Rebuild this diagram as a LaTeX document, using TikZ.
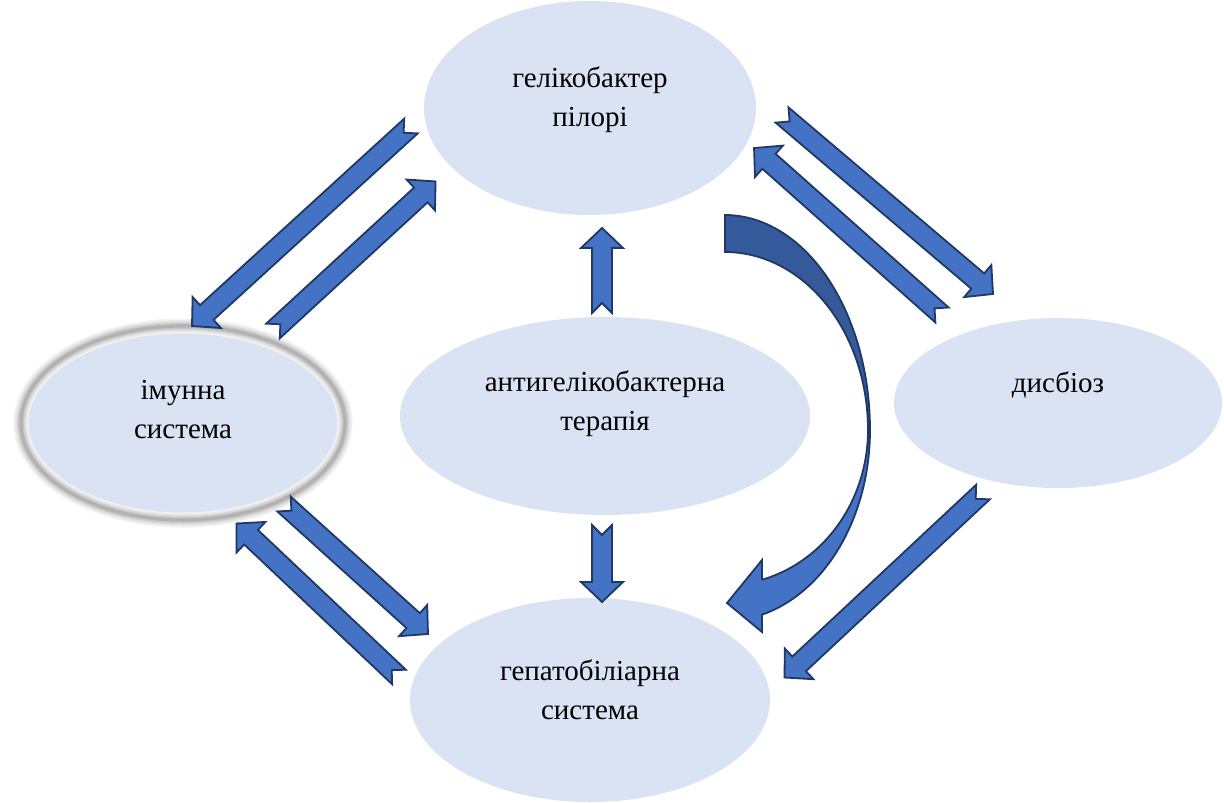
\documentclass[tikz,border=0pt]{standalone}
\usepackage{fontspec}
\setmainfont{Liberation Serif}
\usetikzlibrary{calc,shapes.geometric}
\definecolor{ellfill}{HTML}{DAE3F3}
\definecolor{arrfill}{HTML}{4472C4}
\definecolor{arrline}{HTML}{1F3864}
\definecolor{arrdark}{HTML}{345A9C}
\newcommand\notchedarrow[2]{%
  \pgfpointdiff{\pgfpointanchor{#1}{center}}{\pgfpointanchor{#2}{center}}%
  \pgfgetlastxy{\nax}{\nay}%
  \pgfmathsetmacro\nang{atan2(\nay,\nax)}%
  \pgfmathsetmacro\nlen{veclen(\nax,\nay)}%
  \begin{scope}[shift={(#1)},rotate=\nang]
    \draw[notcharrow] (0pt,5pt) -- ({\nlen pt-10pt},5pt) -- ({\nlen pt-10pt},10.5pt)
      -- (\nlen pt,0pt) -- ({\nlen pt-10pt},-10.5pt) -- ({\nlen pt-10pt},-5pt)
      -- (0pt,-5pt) -- (5pt,0pt) -- cycle;
  \end{scope}}
\begin{document}
\begin{tikzpicture}[x=0.5pt,y=-0.5pt,
  ell/.style={ellipse, fill=ellfill, draw=none, inner sep=0pt},
  lbl/.style={font=\fontsize{14.5}{19.5}\selectfont, align=center, inner sep=0pt},
  notcharrow/.style={fill=arrfill, draw=arrline, line width=0.9pt, line join=miter},
  glowring/.style={draw=black!#1}]
\useasboundingbox (0,0) rectangle (1224,802);
\fill[white] (0,0) rectangle (1224,802);

% ellipses
\node[ell, minimum width=166pt, minimum height=107pt] (hp) at (590,108) {};
\node[ell, minimum width=155pt, minimum height=90pt] (imm) at (183,423) {};
\node[ell, minimum width=205pt, minimum height=99pt] (ther) at (605,416) {};
\node[ell, minimum width=164pt, minimum height=85pt] (dys) at (1058,403) {};
\node[ell, minimum width=180pt, minimum height=102pt] (hep) at (590,700) {};

% glow around immune system
\foreach \w/\c in {7.5pt/5, 6pt/9, 4.5pt/15, 3pt/22, 1.6pt/30}
  \draw[glowring=\c, line width=\w] (imm.center) ellipse [x radius=81pt, y radius=48.5pt];

% labels
\node[lbl] (tHP) at ([yshift=4pt]hp.center) {гелікобактер\\пілорі};
\node[lbl] (tIMM) at ([yshift=6.5pt]imm.center) {імунна\\система};
\node[lbl] (tTHER) at ([yshift=6pt]ther.center) {антигелікобактерна\\терапія};
\node[lbl] (tDYS) at ([yshift=9pt]dys.center) {дисбіоз};
\node[lbl] (tHEP) at ([yshift=5pt]hep.center) {гепатобіліарна\\система};

% arrow end points
\coordinate (a1) at (411,126); \coordinate (a2) at (192,326);
\coordinate (b1) at (273,331); \coordinate (b2) at (436,181);
\coordinate (c1) at (782,115); \coordinate (c2) at (993,294);
\coordinate (d1) at (942,315); \coordinate (d2) at (754,148);
\coordinate (e1) at (284,504); \coordinate (e2) at (428,634);
\coordinate (f1) at (399,677); \coordinate (f2) at (236,523);
\coordinate (g1) at (983,492); \coordinate (g2) at (784,678);
\coordinate (h1) at (602,313); \coordinate (h2) at (602,228);
\coordinate (i1) at (602,525); \coordinate (i2) at (602,602);

\notchedarrow{a1}{a2}
\notchedarrow{b1}{b2}
\notchedarrow{c1}{c2}
\notchedarrow{d1}{d2}
\notchedarrow{e1}{e2}
\notchedarrow{f1}{f2}
\notchedarrow{g1}{g2}
\notchedarrow{h1}{h2}
\notchedarrow{i1}{i2}

% curved arrow (front part with head)
\draw[notcharrow] plot[domain=0:75.2, samples=50, variable=\t] ({725+145*cos(\t)},{430+191*sin(\t)})
  -- (762,632) -- (727,603) -- (762,560) -- (762,580)
  -- plot[domain=75:0, samples=50, variable=\t] ({725+143*cos(\t)},{430+155*sin(\t)}) -- cycle;
% curved arrow (back part)
\draw[notcharrow, fill=arrdark] plot[domain=90:0, samples=50, variable=\t] ({725+145*cos(\t)},{430-215*sin(\t)})
  -- plot[domain=0:90, samples=50, variable=\t] ({725+143*cos(\t)},{430-178*sin(\t)}) -- cycle;
\end{tikzpicture}
\end{document}
